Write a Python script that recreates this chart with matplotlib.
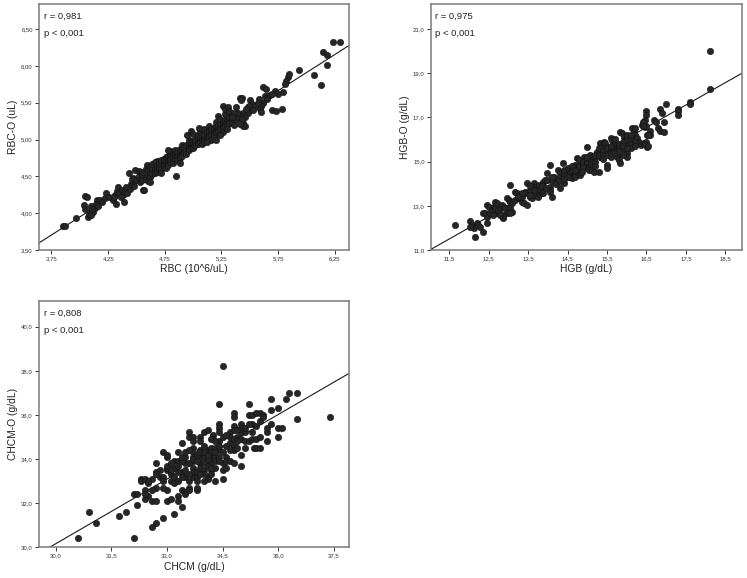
import numpy as np
import matplotlib.pyplot as plt
from matplotlib.ticker import FuncFormatter

plt.rcParams['font.family'] = ['Liberation Sans', 'DejaVu Sans']

# RBC vs RBC-O (10^6/uL)
rbc_points = [
    (3.85, 3.83), (3.87, 3.82), (3.97, 3.94), (4.04, 4.11), (4.05, 4.05), (4.07, 3.95), (4.09, 3.98), (4.12, 4.02),
    (4.13, 4.07), (4.05, 4.23), (4.06, 4.22), (4.15, 4.18), (4.18, 4.18), (4.23, 4.27), (4.29, 4.18), (4.32, 4.13),
    (4.39, 4.15), (4.08, 4.00), (4.10, 4.10), (4.11, 4.05), (4.14, 4.12), (4.10, 3.97), (4.16, 4.10), (4.20, 4.15),
    (4.22, 4.20), (4.26, 4.22), (4.31, 4.25), (4.33, 4.30), (4.34, 4.36), (4.35, 4.27), (4.37, 4.32), (4.38, 4.25),
    (4.40, 4.30), (4.41, 4.35), (4.42, 4.28), (4.44, 4.33), (4.36, 4.22), (4.30, 4.22), (4.45, 4.40), (4.47, 4.42),
    (4.48, 4.37), (4.43, 4.55), (4.49, 4.59), (4.52, 4.57), (4.54, 4.55), (4.47, 4.48), (4.46, 4.46), (4.56, 4.32),
    (4.57, 4.32), (4.59, 4.66), (4.68, 4.71), (4.85, 4.50), (4.50, 4.45), (4.52, 4.50), (4.53, 4.42),
    (4.55, 4.50), (4.55, 4.45), (4.55, 4.56), (4.58, 4.60), (4.58, 4.47), (4.60, 4.52), (4.60, 4.58), (4.60, 4.44),
    (4.62, 4.55), (4.62, 4.63), (4.62, 4.49), (4.64, 4.60), (4.64, 4.53), (4.64, 4.67), (4.66, 4.58), (4.66, 4.62),
    (4.66, 4.55), (4.66, 4.70), (4.68, 4.60), (4.68, 4.65), (4.68, 4.56), (4.70, 4.64), (4.70, 4.59), (4.70, 4.70),
    (4.70, 4.62), (4.72, 4.66), (4.72, 4.60), (4.72, 4.72), (4.74, 4.68), (4.74, 4.63), (4.74, 4.73), (4.74, 4.66),
    (4.76, 4.70), (4.76, 4.65), (4.76, 4.76), (4.76, 4.62), (4.78, 4.72), (4.78, 4.68), (4.78, 4.78), (4.78, 4.66),
    (4.80, 4.75), (4.80, 4.70), (4.80, 4.80), (4.80, 4.73), (4.80, 4.85), (4.82, 4.76), (4.82, 4.71), (4.82, 4.83),
    (4.82, 4.68), (4.84, 4.78), (4.84, 4.82), (4.84, 4.74), (4.84, 4.86), (4.86, 4.80), (4.86, 4.76), (4.86, 4.84),
    (4.86, 4.72), (4.88, 4.82), (4.88, 4.78), (4.88, 4.87), (4.88, 4.75), (4.90, 4.84), (4.90, 4.80), (4.90, 4.88),
    (4.90, 4.92), (4.90, 4.78), (4.92, 4.85), (4.92, 4.82), (4.92, 4.90), (4.94, 4.88), (4.94, 4.84), (4.94, 4.93),
    (4.94, 4.80), (4.96, 4.89), (4.96, 4.86), (4.96, 4.95), (4.96, 5.00), (4.98, 4.92), (4.98, 4.88), (4.98, 4.96),
    (4.98, 5.12), (5.00, 4.93), (5.00, 4.98), (5.00, 4.90), (5.00, 5.08), (5.00, 4.88), (5.02, 4.95), (5.02, 4.92),
    (5.02, 5.00), (5.04, 4.97), (5.04, 5.02), (5.04, 4.94), (5.04, 5.06), (5.06, 5.00), (5.06, 4.96), (5.06, 5.04),
    (5.06, 5.12), (5.08, 5.02), (5.08, 4.98), (5.08, 5.06), (5.08, 4.94), (5.10, 5.04), (5.10, 5.00), (5.10, 5.08),
    (5.10, 5.14), (5.10, 4.97), (5.12, 5.05), (5.12, 5.10), (5.12, 5.02), (5.14, 5.08), (5.14, 5.04), (5.14, 5.12),
    (5.14, 5.18), (5.16, 5.10), (5.16, 5.06), (5.16, 5.14), (5.16, 5.00), (5.18, 5.12), (5.18, 5.08), (5.18, 5.16),
    (5.18, 5.05), (5.20, 5.14), (5.20, 5.10), (5.20, 5.18), (5.20, 5.24), (5.20, 5.00), (5.22, 5.16), (5.22, 5.12),
    (5.22, 5.20), (5.22, 5.32), (5.24, 5.18), (5.24, 5.14), (5.24, 5.22), (5.24, 5.28), (5.26, 5.20), (5.26, 5.16),
    (5.26, 5.24), (5.26, 5.10), (5.28, 5.22), (5.28, 5.18), (5.28, 5.26), (5.28, 5.34), (5.30, 5.24), (5.30, 5.20),
    (5.30, 5.28), (5.30, 5.14), (5.32, 5.26), (5.32, 5.22), (5.32, 5.30), (5.34, 5.28), (5.34, 5.24), (5.34, 5.32),
    (5.36, 5.30), (5.36, 5.26), (5.36, 5.20), (5.38, 5.32), (5.38, 5.28), (5.40, 5.34), (5.40, 5.30), (5.40, 5.36),
    (5.44, 5.36), (5.44, 5.32), (5.48, 5.40), (5.48, 5.36), (5.48, 5.44),
    (5.41, 5.57), (5.44, 5.23), (5.46, 5.18), (5.62, 5.71), (5.63, 5.59), (5.70, 5.40), (5.73, 5.39), (5.78, 5.42),
    (5.84, 5.85), (5.85, 5.89), (5.82, 5.80), (5.81, 5.75), (5.93, 5.94), (6.07, 5.88), (6.23, 6.32), (6.30, 6.32),
    (6.15, 6.19), (6.18, 6.15), (6.18, 6.01), (6.13, 5.74), (5.79, 5.64), (5.75, 5.62), (5.72, 5.66), (5.64, 5.69),
    (5.66, 5.59), (5.65, 5.55), (5.62, 5.50), (5.60, 5.46), (5.59, 5.41), (5.60, 5.38), (5.50, 5.53), (5.52, 5.48),
    (5.49, 5.46), (5.43, 5.57), (5.42, 5.53), (5.38, 5.44), (5.26, 5.46), (5.28, 5.41), (5.31, 5.44), (5.32, 5.39),
    (5.46, 5.30), (5.43, 5.28), (5.44, 5.18), (5.41, 5.21), (5.55, 5.45), (5.57, 5.50), (5.68, 5.60), (5.70, 5.62),
    (5.53, 5.40), (5.58, 5.55), (5.47, 5.42), (5.36, 5.36), (5.34, 5.30),
    (4.72, 4.55), (4.88, 4.68), (4.95, 5.06), (5.05, 5.16), (5.12, 4.96), (5.24, 5.06), (4.62, 4.42), (4.78, 4.86),
]

# HGB vs HGB-O (g/dL)
hgb_points = [
    (11.65, 12.13), (12.03, 12.33), (12.08, 12.13), (12.12, 11.98), (12.03, 12.06), (12.16, 11.60), (12.20, 12.24),
    (12.24, 12.13), (12.29, 12.06), (12.35, 11.83), (12.37, 12.66), (12.41, 12.66), (12.46, 12.51), (12.46, 13.04),
    (12.50, 12.96), (12.46, 12.21), (12.54, 12.66), (12.58, 12.81), (12.63, 12.96), (12.67, 12.89), (12.71, 12.66),
    (12.67, 13.19), (12.71, 13.11), (12.75, 12.81), (12.81, 12.89), (12.84, 13.04), (12.88, 12.96), (12.92, 12.89),
    (12.96, 12.66), (12.86, 12.58), (12.86, 12.43), (12.86, 12.51), (12.96, 13.34), (13.01, 13.26), (13.05, 13.19),
    (13.09, 13.11), (13.05, 13.94), (13.05, 12.89), (13.09, 12.73), (13.05, 12.66), (13.18, 13.64), (13.22, 13.56),
    (13.26, 13.49), (13.18, 13.26), (13.26, 13.34), (13.34, 13.19), (13.39, 13.11), (13.43, 13.64), (13.47, 13.56),
    (13.47, 14.02), (13.47, 13.04), (13.56, 13.41), (13.60, 13.34), (13.64, 13.49), (13.64, 14.02), (13.68, 13.87),
    (13.73, 13.79), (13.77, 13.94), (13.77, 13.64), (13.81, 13.71), (13.85, 13.56), (13.89, 13.56), (13.89, 14.09),
    (13.94, 14.17), (13.98, 14.17), (13.98, 14.47), (14.06, 14.85), (14.06, 13.87), (14.06, 13.71), (14.06, 13.64),
    (14.11, 13.41), (14.13, 14.17), (14.15, 14.32), (14.19, 14.09), (14.27, 14.62), (14.32, 14.47), (14.36, 14.32),
    (14.32, 13.79), (14.38, 14.92), (14.40, 14.02), (14.49, 14.47), (14.53, 14.54), (14.57, 14.47), (14.57, 14.32),
    (14.61, 14.24), (14.66, 14.77), (14.70, 14.85), (14.74, 14.70), (14.74, 15.15), (14.78, 15.07), (14.78, 14.47),
    (14.82, 14.39), (14.87, 14.54), (14.91, 15.22), (14.95, 15.07), (14.99, 14.92), (14.99, 14.70), (15.04, 14.62),
    (15.08, 15.30), (15.12, 15.22), (15.16, 15.15), (14.99, 15.68), (15.12, 14.62), (15.16, 14.54), (15.25, 15.45),
    (15.29, 15.37), (15.33, 15.22), (15.29, 14.54), (15.33, 15.83), (15.37, 15.68), (15.42, 15.90), (15.46, 15.83),
    (15.50, 15.68), (15.54, 15.52), (15.50, 14.85), (15.50, 14.70), (15.59, 16.05), (15.63, 15.98), (15.67, 15.83),
    (15.71, 15.68), (15.76, 15.52), (15.76, 15.22), (15.80, 15.07), (15.84, 14.92), (15.84, 16.35), (15.88, 16.28),
    (15.92, 16.13), (15.97, 15.98), (16.01, 15.83), (16.05, 15.68), (15.97, 15.52), (16.01, 15.37), (16.01, 15.22),
    (16.14, 16.51), (16.18, 16.35), (16.22, 16.20), (16.26, 16.05), (16.31, 15.90), (16.35, 15.75), (16.43, 15.83),
    (16.52, 15.68), (16.39, 16.66), (16.47, 16.58), (16.52, 16.20),
    (16.50, 17.30), (16.50, 17.10), (16.85, 17.40), (16.90, 17.20), (17.00, 17.60), (17.30, 17.40), (17.30, 17.30),
    (17.30, 17.10), (17.60, 17.70), (17.60, 17.60), (18.10, 18.30), (18.10, 20.00), (16.70, 16.90), (16.75, 16.80),
    (16.80, 16.50), (16.85, 16.40), (16.95, 16.80), (16.95, 16.35), (16.60, 16.40), (16.60, 16.20), (16.50, 15.90),
    (16.50, 16.60), (16.45, 16.90), (16.40, 16.80), (16.40, 16.60), (16.45, 15.80), (16.55, 15.70), (16.55, 16.20),
    (14.10, 14.10), (14.20, 14.00), (14.30, 14.30), (14.30, 14.10), (14.40, 14.40), (14.40, 14.60), (14.50, 14.30),
    (14.50, 14.70), (14.60, 14.60), (14.60, 14.80), (14.70, 14.50), (14.70, 14.60), (14.70, 14.30), (14.80, 14.80),
    (14.90, 14.90), (14.90, 14.80), (14.90, 15.00), (15.00, 15.00), (15.00, 15.20), (15.10, 15.00), (15.10, 14.90),
    (15.20, 15.30), (15.20, 15.00), (15.20, 14.80), (15.30, 15.30), (15.30, 15.60), (15.40, 15.50), (15.40, 15.30),
    (15.40, 15.10), (15.50, 15.60), (15.50, 15.30), (15.60, 15.60), (15.60, 15.40), (15.60, 15.70), (15.60, 15.20),
    (15.70, 15.90), (15.70, 16.00), (15.80, 15.80), (15.80, 15.60), (15.80, 15.40), (15.90, 15.90), (15.90, 15.60),
    (15.90, 15.30), (15.90, 15.70), (16.00, 16.00), (16.00, 16.20), (16.10, 16.00), (16.10, 15.80), (16.10, 15.60),
    (16.10, 16.20), (16.20, 15.90), (16.20, 16.50), (16.20, 15.70), (15.70, 15.40), (15.80, 15.50), (16.00, 15.60),
    (13.55, 13.70), (13.55, 13.50), (13.65, 13.70), (13.75, 13.40), (13.85, 13.90), (13.95, 13.80), (14.10, 14.30),
    (13.35, 13.40), (13.35, 13.60), (13.25, 13.40), (12.80, 12.60), (12.60, 12.60), (13.55, 13.90), (14.40, 14.20),
]

# CHCM vs CHCM-O (g/dL)
chcm_points = [
    (30.6, 30.4), (30.9, 31.6), (31.1, 31.1), (31.7, 31.4), (31.9, 31.6), (32.1, 30.4), (32.1, 32.4), (32.2, 32.4),
    (32.2, 31.9), (32.3, 33.1), (32.3, 33.0), (32.4, 33.1), (32.4, 32.6), (32.5, 32.3), (32.4, 32.2), (32.5, 32.9),
    (32.6, 32.1), (32.7, 32.1), (32.6, 30.9), (32.7, 31.1), (32.7, 33.8), (32.7, 33.4), (32.7, 33.3), (32.8, 33.2),
    (32.7, 32.7), (32.9, 31.3), (32.9, 34.3), (33.0, 33.5), (32.9, 33.2), (32.9, 33.0), (33.0, 34.1), (33.0, 33.6),
    (33.0, 33.7), (33.0, 32.1), (33.1, 32.2), (33.0, 32.6), (32.9, 32.7), (33.1, 33.3), (33.1, 33.0), (33.2, 32.9),
    (33.2, 31.5), (33.2, 33.9), (33.3, 33.9), (33.3, 34.3), (33.3, 32.3), (33.3, 32.1), (33.4, 31.8), (33.4, 32.6),
    (33.4, 33.4), (33.3, 33.4), (33.4, 34.7), (33.5, 34.1), (33.5, 33.8), (33.5, 32.5), (33.5, 32.4), (33.5, 33.2),
    (33.5, 33.5), (33.6, 35.2), (33.6, 35.0), (33.6, 32.7), (33.6, 32.6), (33.6, 33.0), (33.7, 35.0), (33.7, 34.8),
    (33.7, 34.5), (33.7, 34.3), (33.7, 34.1), (33.7, 33.9), (33.7, 33.6), (33.7, 33.4), (33.7, 33.2), (33.8, 32.6),
    (33.8, 32.7), (33.8, 33.2), (33.8, 33.4), (33.9, 35.0), (33.9, 34.8), (33.9, 34.4), (33.9, 34.1), (33.9, 33.8),
    (33.9, 33.6), (34.0, 34.1), (34.0, 33.8), (34.0, 33.5), (34.0, 35.2), (34.1, 35.3), (34.1, 34.4), (34.1, 33.2),
    (34.1, 33.1), (34.2, 34.5), (34.2, 34.1), (34.2, 33.8), (34.2, 33.5), (34.2, 33.3), (34.25, 35.1), (34.25, 34.9),
    (34.3, 34.5), (34.3, 34.1), (34.3, 33.9), (34.3, 33.6), (34.3, 33.0), (34.4, 36.5), (34.4, 35.6), (34.4, 35.4),
    (34.4, 35.2), (34.4, 34.8), (34.4, 34.4), (34.4, 34.1), (34.5, 33.8), (34.5, 33.5), (34.5, 33.1), (34.5, 38.2),
    (34.6, 34.1), (34.6, 33.6), (34.6, 33.9), (34.7, 35.2), (34.7, 35.0), (34.7, 34.7), (34.7, 33.9), (34.8, 36.1),
    (34.8, 35.9), (34.8, 35.5), (34.8, 35.3), (34.8, 34.6), (34.8, 34.4), (34.8, 33.8), (34.9, 35.0), (34.9, 34.5),
    (35.0, 35.6), (35.0, 35.4), (35.0, 35.2), (35.0, 34.9), (35.0, 34.2), (35.0, 33.7), (35.1, 35.2), (35.1, 34.8),
    (35.1, 34.5), (35.2, 36.5), (35.2, 36.0), (35.3, 36.0), (35.1, 35.4), (35.2, 34.8), (35.3, 35.6), (35.4, 35.5),
    (35.3, 34.9), (35.4, 34.9), (35.4, 36.1), (35.5, 36.1), (35.6, 36.0), (35.35, 34.5), (35.4, 34.5), (35.5, 34.5),
    (35.5, 35.7), (35.6, 35.9), (35.7, 35.2), (35.7, 35.4), (35.8, 36.7), (35.8, 36.2), (35.8, 35.6), (35.7, 34.8),
    (36.0, 36.3), (36.0, 35.4), (36.0, 35.0), (36.1, 35.4), (36.2, 36.7), (36.3, 37.0), (36.5, 37.0), (36.5, 35.8),
    (37.4, 35.9),
    (33.2, 33.6), (33.3, 33.7), (33.4, 33.9), (33.4, 34.1), (33.5, 34.3), (33.6, 34.4), (33.6, 33.8), (33.7, 34.0),
    (33.8, 34.2), (33.8, 33.9), (33.9, 34.3), (34.0, 34.6), (34.0, 34.3), (34.0, 33.3), (34.1, 34.0), (34.1, 33.7),
    (34.2, 34.3), (34.2, 34.9), (34.3, 34.8), (34.3, 34.3), (34.4, 34.6), (34.4, 33.9), (34.5, 34.3), (34.5, 35.0),
    (34.6, 34.6), (34.6, 35.1), (34.7, 34.4), (34.8, 34.9), (34.9, 35.3), (34.9, 34.8), (33.1, 33.5), (33.2, 33.2),
    (33.3, 33.0), (33.4, 33.2), (33.6, 33.3), (33.8, 33.0), (33.9, 33.3), (34.0, 33.0), (34.1, 34.2), (34.2, 33.6),
    (32.8, 33.5), (32.6, 33.1), (32.5, 33.0), (32.6, 32.6), (32.4, 32.4), (33.0, 34.2), (33.1, 33.8), (35.2, 35.6),
    (35.3, 35.2), (35.5, 35.0),
]

# panel settings
x_labels = ['RBC (10^6/uL)', 'HGB (g/dL)', 'CHCM (g/dL)']
y_labels = ['RBC-O (uL)', 'HGB-O (g/dL)', 'CHCM-O (g/dL)']
r_text = ['r = 0,981', 'r = 0,975', 'r = 0,808']
p_text = 'p < 0,001'
fit_slope = [0.980, 1.011, 0.978]
fit_icpt = [0.029, -0.13, 0.807]
x_lims = [(3.64, 6.375), (11.04, 18.92), (29.55, 37.91)]
y_lims = [(3.5, 6.84), (11.0, 22.13), (30.0, 41.17)]
x_ticks = [np.arange(3.75, 6.3, 0.5), np.arange(11.5, 18.6, 1.0), np.arange(30.0, 37.6, 1.5)]
y_ticks = [np.arange(3.5, 6.6, 0.5), np.arange(11.0, 21.1, 2.0), np.arange(30.0, 40.1, 2.0)]
decimals = [2, 1, 1]

W, H = 747, 578
# pixel boxes: left, top, right, bottom
boxes = [(39, 4, 349, 250), (431, 4, 742, 250), (39, 301, 349, 547)]

fig = plt.figure(figsize=(W / 100, H / 100), dpi=100)

for i, pts in enumerate([rbc_points, hgb_points, chcm_points]):
    l, t, r, b = boxes[i]
    ax = fig.add_axes([l / W, 1 - b / H, (r - l) / W, (b - t) / H])
    xy = np.array(pts)
    ax.scatter(xy[:, 0], xy[:, 1], s=21, c='#262626', edgecolors='#111111',
               linewidths=0.4, zorder=3)
    xs = np.array(x_lims[i])
    ax.plot(xs, fit_slope[i] * xs + fit_icpt[i], color='#1a1a1a', lw=0.8, zorder=2)
    ax.set_xlim(x_lims[i])
    ax.set_ylim(y_lims[i])
    ax.set_xticks(x_ticks[i])
    ax.set_yticks(y_ticks[i])
    d = decimals[i]
    fmt = FuncFormatter(lambda v, pos, d=d: f'{v:.{d}f}'.replace('.', ','))
    ax.xaxis.set_major_formatter(fmt)
    ax.yaxis.set_major_formatter(fmt)
    ax.tick_params(direction='out', length=3, width=0.7, labelsize=4.3,
                   colors='#333333', pad=1.5, top=False, right=False)
    for sp in ax.spines.values():
        sp.set_color('#7a7a7a')
        sp.set_linewidth(1.1)
    ax.set_xlabel(x_labels[i], fontsize=7.4, color='#222222', va='center')
    ax.set_ylabel(y_labels[i], fontsize=7.4, color='#222222', va='center')
    ax.xaxis.set_label_coords(0.5, -19.5 / (b - t))
    ax.yaxis.set_label_coords(-26.0 / (r - l), 0.5)
    ax.text(4.5 / (r - l), 1 - 12 / (b - t), r_text[i], transform=ax.transAxes,
            fontsize=6.8, color='#222222', va='center', ha='left')
    ax.text(4.5 / (r - l), 1 - 29.5 / (b - t), p_text, transform=ax.transAxes,
            fontsize=6.8, color='#222222', va='center', ha='left')

fig.savefig('out.png', dpi=100)
